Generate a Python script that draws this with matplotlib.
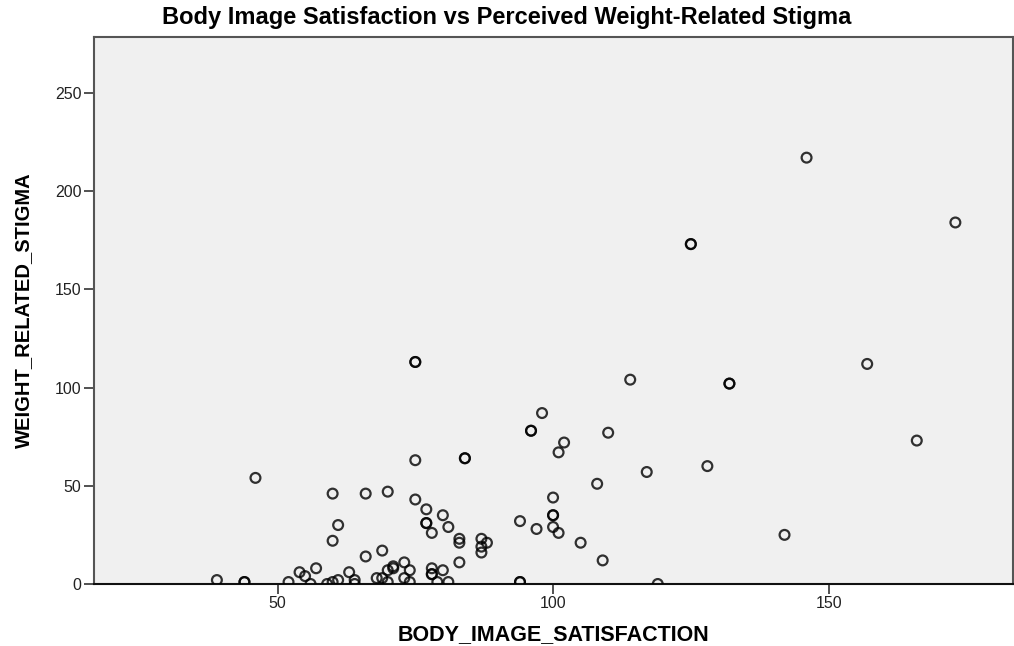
#!/usr/bin/env python3
"""Scatter of body image satisfaction against perceived weight-related stigma (SPSS-style look)."""

import matplotlib

matplotlib.use("Agg")
import matplotlib.pyplot as plt  # noqa: E402

plt.rcParams["font.family"] = ["Liberation Sans", "DejaVu Sans"]

# repeated pairs are overlapping cases
body_image_satisfaction = [
    146, 173, 125, 125, 157, 75, 75, 114, 132, 132, 98, 96, 96, 110, 102, 166, 101,
    128, 84, 84, 75, 117, 46, 108, 142, 119, 109, 105, 100, 100, 100, 94, 97, 100,
    101, 94, 94, 60, 66, 70, 61, 60, 75, 77, 77, 77, 78, 80, 81, 83, 83, 87, 87, 87,
    88, 83, 66, 69, 39, 44, 44, 52, 54, 55, 56, 57, 59, 60, 61, 63, 64, 64, 68, 69,
    70, 71, 71, 70, 73, 74, 73, 74, 78, 78, 78, 80, 79, 81,
]
weight_related_stigma = [
    217, 184, 173, 173, 112, 113, 113, 104, 102, 102, 87, 78, 78, 77, 72, 73, 67,
    60, 64, 64, 63, 57, 54, 51, 25, 0, 12, 21, 44, 35, 35, 32, 28, 29,
    26, 1, 1, 46, 46, 47, 30, 22, 43, 38, 31, 31, 26, 35, 29, 23, 21, 23, 19, 16,
    21, 11, 14, 17, 2, 1, 1, 1, 6, 4, 0, 8, 0, 1, 2, 6, 2, 0, 3, 3,
    7, 8, 9, 1, 11, 7, 3, 1, 8, 5, 5, 7, 1, 1,
]

fig = plt.figure(figsize=(10.14, 6.46), dpi=100)
ax = fig.add_axes([0.0927, 0.096, 0.906, 0.847])
ax.set_facecolor("#F0F0F0")

ax.scatter(body_image_satisfaction, weight_related_stigma, s=50, facecolors="none",
           edgecolors="black", linewidths=1.6, alpha=0.8, zorder=3)

ax.set_xlim(16.7, 183.4)
ax.set_ylim(0, 278.5)
ax.set_xticks([50, 100, 150])
ax.set_yticks([0, 50, 100, 150, 200, 250])
ax.tick_params(direction="out", length=7, width=1.2, color="#333333",
               labelsize=11.5, labelcolor="#222222", pad=2)

for side in ("left", "top", "right"):
    ax.spines[side].set_color("#555555")
    ax.spines[side].set_linewidth(1.5)
ax.spines["bottom"].set_color("#111111")
ax.spines["bottom"].set_linewidth(1.5)

ax.set_xlabel("BODY_IMAGE_SATISFACTION", fontsize=15.5, fontweight="bold", labelpad=9)
ax.set_ylabel("WEIGHT_RELATED_STIGMA", fontsize=14.5, fontweight="bold", labelpad=16)
fig.text(0.5, 0.973, "Body Image Satisfaction vs Perceived Weight-Related Stigma",
         ha="center", va="center", fontsize=17, fontweight="bold")

fig.savefig("out.png", dpi=100)
